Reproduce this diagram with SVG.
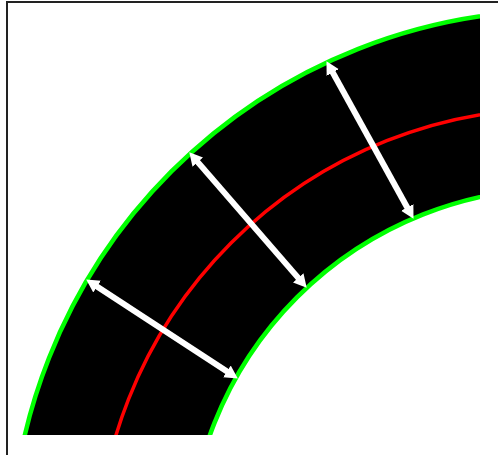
<svg xmlns="http://www.w3.org/2000/svg" width="498" height="455" viewBox="0 0 498 455">
<style>
.frame{stroke:#222;stroke-width:2;fill:none}
.edge{fill:none;stroke:#00ff00;stroke-width:4.5}
.mid{fill:none;stroke:#ff0000;stroke-width:3.5}
.arrow{stroke:#ffffff;stroke-width:6;marker-start:url(#head);marker-end:url(#head)}
</style>
<defs>
<clipPath id="clip"><rect x="0" y="0" width="480" height="435"/></clipPath>
<marker id="head" markerUnits="userSpaceOnUse" markerWidth="14" markerHeight="14" viewBox="0 0 14 14" refX="2" refY="7" orient="auto-start-reverse">
<path d="M0,0 L13,7 L0,14 Z" fill="#ffffff"/>
</marker>
</defs>
<rect width="498" height="455" fill="#ffffff"/>
<g id="frame">
<line class="frame" x1="6" y1="2" x2="498" y2="2"/>
<line class="frame" x1="7" y1="1" x2="7" y2="455"/>
</g>
<g id="road" clip-path="url(#clip)">
<path d="M10.5,560 a549.5,549.5 0 1,0 1099,0 a549.5,549.5 0 1,0 -1099,0 Z M188.3,560 a371.7,371.7 0 1,0 743.4,0 a371.7,371.7 0 1,0 -743.4,0 Z" fill="#000000" fill-rule="evenodd"/>
<circle id="outer-edge" class="edge" cx="560" cy="560" r="549.5"/>
<circle id="inner-edge" class="edge" cx="560" cy="560" r="371.7"/>
<circle id="centre-line" class="mid" cx="556" cy="568" r="459.6"/>
</g>
<g id="connectors">
<line class="arrow" x1="95.4" y1="285.5" x2="228.6" y2="372.5"/>
<line class="arrow" x1="196.5" y1="160.6" x2="299.5" y2="279.4"/>
<line class="arrow" x1="331.8" y1="70.8" x2="408.2" y2="209.2"/>
</g>
</svg>
